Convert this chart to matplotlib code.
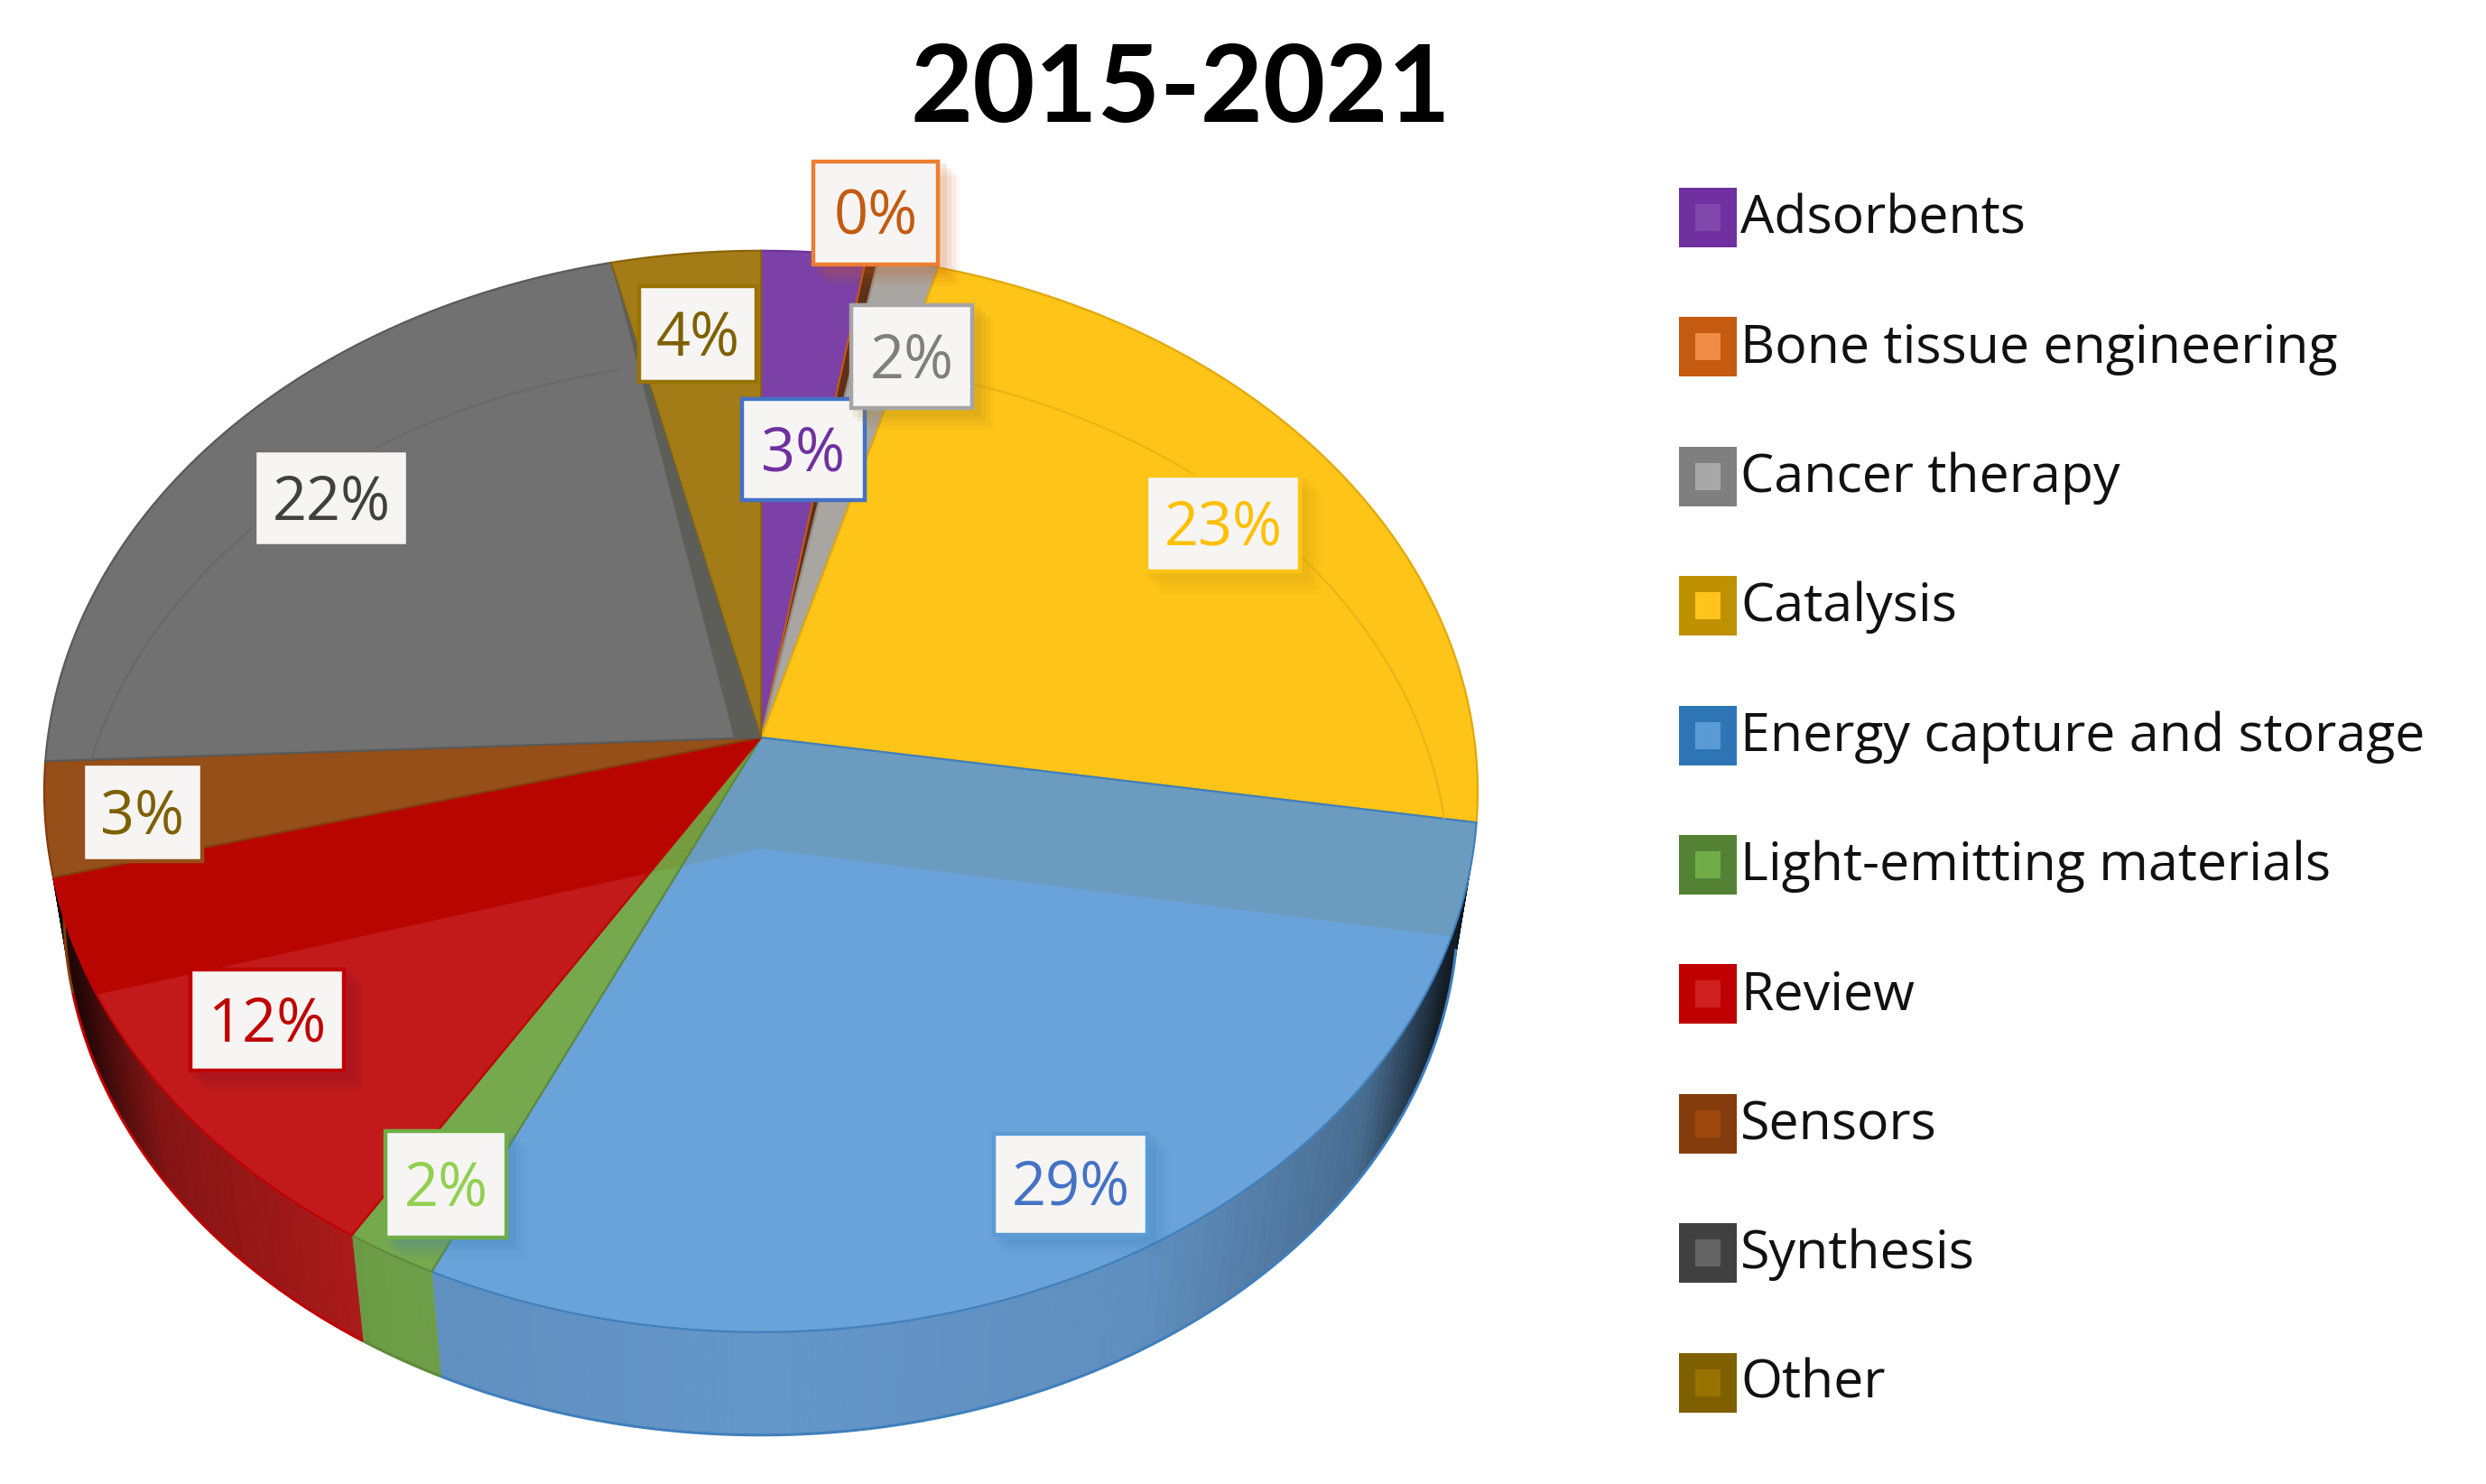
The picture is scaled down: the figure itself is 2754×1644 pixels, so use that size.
import numpy as np
import matplotlib
matplotlib.use("Agg")
import matplotlib.pyplot as plt
from matplotlib.patches import Polygon, Rectangle
from matplotlib.collections import PolyCollection

# ---- data ----
categories = ["Adsorbents", "Bone tissue engineering", "Cancer therapy", "Catalysis",
              "Energy capture and storage", "Light-emitting materials", "Review",
              "Sensors", "Synthesis", "Other"]
values = [2.6, 0.3, 1.5, 23.1, 29.4, 1.9, 12.1, 3.4, 22.0, 3.7]
title = "2015-2021"

# ---- styles ----
face_colors = ["#7b41a7", "#5f3018", "#a9a6a2", "#fec418", "#6b9cc0", "#759d3f", "#b90500", "#964f18", "#717171", "#a37c18"]
lit_colors = ["#7b41a7", "#5f3018", "#a9a6a2", "#fec418", "#6aa3d9", "#76a84e", "#c21a1a", "#964f18", "#717171", "#a37c18"]
edge_colors = ["#7030a0", "#c55a11", "#8f8f8f", "#e0a90c", "#3f7fbd", "#5f8a3a", "#c00000", "#843c0c", "#5a5a5a", "#8a6508"]
wall_colors = ["#7030a0", "#c55a11", "#a5a5a5", "#ffc000", "#6496c8", "#72a54a", "#b81c1c", "#843c0c", "#595959", "#997300"]
legend_outer = ["#7030a0", "#c55a11", "#7f7f7f", "#bf9000", "#2e75b6", "#548235", "#c00000", "#843c0c", "#404040", "#7f6000"]
legend_inner = ["#8048ab", "#f08c45", "#a8a8a8", "#ffc41c", "#5b9bd5", "#70ad47", "#d02020", "#9e480e", "#636363", "#997300"]
label_text = ["#7030a0", "#c55a11", "#7f7f7f", "#ffc000", "#4472c4", "#92d050", "#c00000", "#7f6000", "#404040", "#7f6000"]
label_edge = ["#4472c4", "#ed7d31", "#a5a5a5", "#fdc418", "#5b9bd5", "#70ad47", "#c00000", "#964f18", "#717171", "#997300"]
label_shadow = [None, "#c55a11", "#a07c20", "#c89a10", "#3f7fbd", "#3f7fbd", "#7a1030", None, None, None]
# label box centres and sizes, in output pixels
label_cx = [890, 970, 1010, 1355, 1186, 494, 296, 158, 367, 773]
label_cy = [498, 236, 395, 580, 1312, 1312, 1130, 900, 552, 370]
label_w = [136, 138, 134, 170, 170, 134, 170, 132, 170, 130]
label_h = [112, 114, 114, 106, 112, 118, 112, 108, 106, 106]

W, H = 2754, 1644
CX, CY, A, B, K = 843.0, 817.0, 790.0, 593.0, 0.0997
WALL_SCALE, VANISH_Y = 0.9725, 5626.0
LIT_APEX = (843.0, 940.0)
LIT_RANGE = (111.0, 242.7)
RING_SHIFT = 100.0
WALL_START = 100.0


def project(theta, r=1.0):
    t = np.radians(theta)
    X, Y = r * np.sin(t), -r * np.cos(t)
    w = 1 - K * Y
    return CX + A * X / w, CY + B * Y / w


def to_floor(x, y):
    return CX + WALL_SCALE * (x - CX), VANISH_Y + WALL_SCALE * (y - VANISH_Y)


def rim(t0, t1, r=1.0, step=0.5):
    n = max(int(abs(t1 - t0) / step), 2)
    th = np.linspace(t0, t1, n + 1)
    x, y = project(th, r)
    return np.column_stack([x, y])


plt.rcParams["font.family"] = ["Open Sans", "DejaVu Sans"]
fig = plt.figure(figsize=(W / 100, H / 100), dpi=100)
ax = fig.add_axes([0, 0, 1, 1])
ax.set_xlim(0, W)
ax.set_ylim(H, 0)
ax.axis("off")

vals = np.array(values, float)
fracs = vals / vals.sum()
edges = np.concatenate([[0], np.cumsum(fracs) * 360])


def shaded(col, f):
    c = np.array(matplotlib.colors.to_rgb(col)) * f
    return tuple(np.clip(c, 0, 1))


# side wall, drawn from the slice angles
for i in range(len(vals)):
    t0, t1 = edges[i], edges[i + 1]
    lo, hi = max(t0, WALL_START), min(t1, 270)
    if hi <= lo:
        continue
    th = np.arange(lo, hi + 1.0, 1.0)
    th[-1] = hi
    polys, cols = [], []
    for a, b in zip(th[:-1], th[1:]):
        p1, p2 = project(a), project(b)
        q1, q2 = to_floor(*p1), to_floor(*p2)
        polys.append([p1, p2, q2, q1])
        xn = abs(np.sin(np.radians((a + b) / 2)))
        cols.append(shaded(wall_colors[i], np.interp(xn, [0, .5, .8, .93, 1], [1, .95, .72, .2, .1])))
    ax.add_collection(PolyCollection(polys, facecolors=cols, edgecolors=cols, linewidths=0.6, zorder=1))
    fl = np.array([to_floor(*project(a)) for a in th])
    ax.plot(fl[:, 0], fl[:, 1], color=edge_colors[i], lw=2.2, zorder=2, solid_capstyle="butt")

# top face
lit_region = np.vstack([[LIT_APEX], rim(*LIT_RANGE)])
for i in range(len(vals)):
    t0, t1 = edges[i], edges[i + 1]
    pts = np.vstack([[(CX, CY)], rim(t0, t1)])
    ax.add_patch(Polygon(pts, closed=True, facecolor=face_colors[i], edgecolor=edge_colors[i], lw=1.6, zorder=3))
    if lit_colors[i] != face_colors[i]:
        lit = Polygon(pts, closed=True, facecolor=lit_colors[i], edgecolor=edge_colors[i], lw=1.6, zorder=4)
        ax.add_patch(lit)
        lit.set_clip_path(Polygon(lit_region, closed=True, transform=ax.transData))
    if categories[i] in ("Synthesis", "Catalysis"):
        ring = rim(t0, t1, r=0.96)
        ln, = ax.plot(ring[:, 0], ring[:, 1] + RING_SHIFT, lw=1.6, zorder=5,
                      color=shaded(face_colors[i], 0.92))
        clip = Polygon(pts, closed=True, transform=ax.transData)
        ln.set_clip_path(clip)
    if categories[i] == "Synthesis":
        rx, ry = project(t1)
        ax.add_patch(Polygon([(rx, ry), (CX, CY), (CX - 30, CY)], closed=True,
                             facecolor="#5e5e58", edgecolor="none", zorder=5))

# data labels with soft shadows; each label sits wholly above the one before it
for i in range(len(vals)):
    cx, cy, w, h = label_cx[i], label_cy[i], label_w[i], label_h[i]
    z = 6 + i * 0.2
    if label_shadow[i]:
        for off, al in zip((34, 26, 18, 10), (.05, .07, .09, .12)):
            ax.add_patch(Rectangle((cx - w / 2 - 4 + off * .6, cy - h / 2 - 4 + off * .6), w + 8, h + 8,
                                   facecolor=label_shadow[i], edgecolor="none", alpha=al, zorder=z))
    ax.add_patch(Rectangle((cx - w / 2, cy - h / 2), w, h, facecolor="#f6f5f4",
                           edgecolor=label_edge[i], lw=3.2, zorder=z + 0.05))
    ax.text(cx, cy + 6, f"{fracs[i] * 100:.0f}%", ha="center", va="center",
            fontsize=48, color=label_text[i], zorder=z + 0.1)

# title
ax.text(1308, 101, title, ha="center", va="center", fontsize=86, fontweight="bold",
        fontfamily=["Lato", "DejaVu Sans"], color="black", zorder=9)

# legend
LEG_X, LEG_Y0, LEG_DY = 1860, 241, 143.4
SW_W, SW_H = 64, 66
for i, name in enumerate(categories):
    y = LEG_Y0 + i * LEG_DY
    ax.add_patch(Rectangle((LEG_X, y - SW_H / 2), SW_W, SW_H, facecolor=legend_outer[i], edgecolor="none", zorder=9))
    ax.add_patch(Rectangle((LEG_X + 18, y - SW_H / 2 + 18), SW_W - 36, SW_H - 36, facecolor=legend_inner[i], edgecolor="none", zorder=10))
    ax.text(LEG_X + 68, y + 2, name, ha="left", va="center", fontsize=42.6, color="#111111", zorder=10)

fig.savefig("out.png", dpi=100, facecolor="white")
